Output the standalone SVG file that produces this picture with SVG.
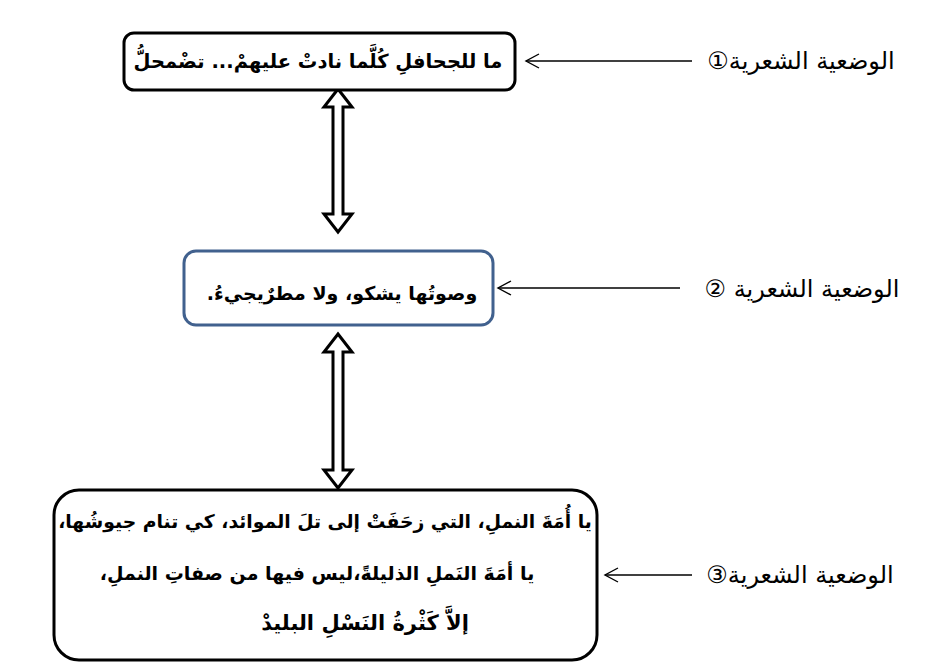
<svg xmlns="http://www.w3.org/2000/svg" width="944" height="667" viewBox="0 0 944 667">
<style>
.box{fill:#fff;stroke:#000;stroke-width:3}
.box2{fill:#fff;stroke:#41618e;stroke-width:3}
.t{font-family:"DejaVu Sans",sans-serif;font-weight:bold;fill:#000;direction:rtl;text-anchor:middle}
.lbl{font-family:"DejaVu Sans",sans-serif;fill:#000;direction:rtl;text-anchor:middle;font-size:24px}
.ln{stroke:#000;stroke-width:1.3;fill:none}
.dbl{fill:#fff;stroke:#000;stroke-width:3;stroke-linejoin:miter}
</style>
<defs>
<marker id="ah" markerWidth="16" markerHeight="16" refX="14" refY="8" orient="auto" markerUnits="userSpaceOnUse">
<path d="M1,1 L14,8 L1,15" fill="none" stroke="#000" stroke-width="1.4"/>
</marker>
</defs>
<rect width="944" height="667" fill="#fff"/>
<g id="connectors">
<polygon class="dbl" points="338,89 352,107 343,107 343,214 352,214 338,232 324,214 333,214 333,107 324,107"/>
<polygon class="dbl" points="338,334 352,352 343,352 343,470 352,470 338,488 324,470 333,470 333,352 324,352"/>
<line class="ln" x1="692" y1="61" x2="526" y2="61" marker-end="url(#ah)"/>
<line class="ln" x1="680" y1="288" x2="498" y2="288" marker-end="url(#ah)"/>
<line class="ln" x1="692" y1="575" x2="605" y2="575" marker-end="url(#ah)"/>
</g>
<g id="node1">
<rect class="box" x="124" y="33" width="391" height="57" rx="10"/>
<text class="t" x="318" y="68" font-size="19.5">ما للجحافلِ كُلَّما نادتْ عليهمْ... تضْمحلُّ</text>
</g>
<g id="node2">
<rect class="box2" x="184" y="251" width="309" height="74" rx="12"/>
<text class="t" x="342" y="300" font-size="19">وصوتُها يشكو، ولا مطرٌيجيءُ.</text>
</g>
<g id="node3">
<rect class="box" x="54" y="490" width="543" height="170" rx="25"/>
<text class="t" x="325" y="528" font-size="18.8">يا أُمَةَ النملِ، التي زحَفَتْ إلى تلَ الموائد، كي تنام جيوشُها،</text>
<text class="t" x="317" y="580" font-size="19">يا أمَةَ النَملِ الذليلةً،ليس فيها من صفاتِ النملِ،</text>
<text class="t" x="365" y="630" font-size="21">إلاَّ كَثْرةُ النَسْلِ البليدْ</text>
</g>
<g id="label1"><text class="lbl" x="801" y="69">الوضعية الشعرية①</text></g>
<g id="label2"><text class="lbl" x="802" y="297">الوضعية الشعرية ②</text></g>
<g id="label3"><text class="lbl" x="800" y="583">الوضعية الشعرية③</text></g>
</svg>
